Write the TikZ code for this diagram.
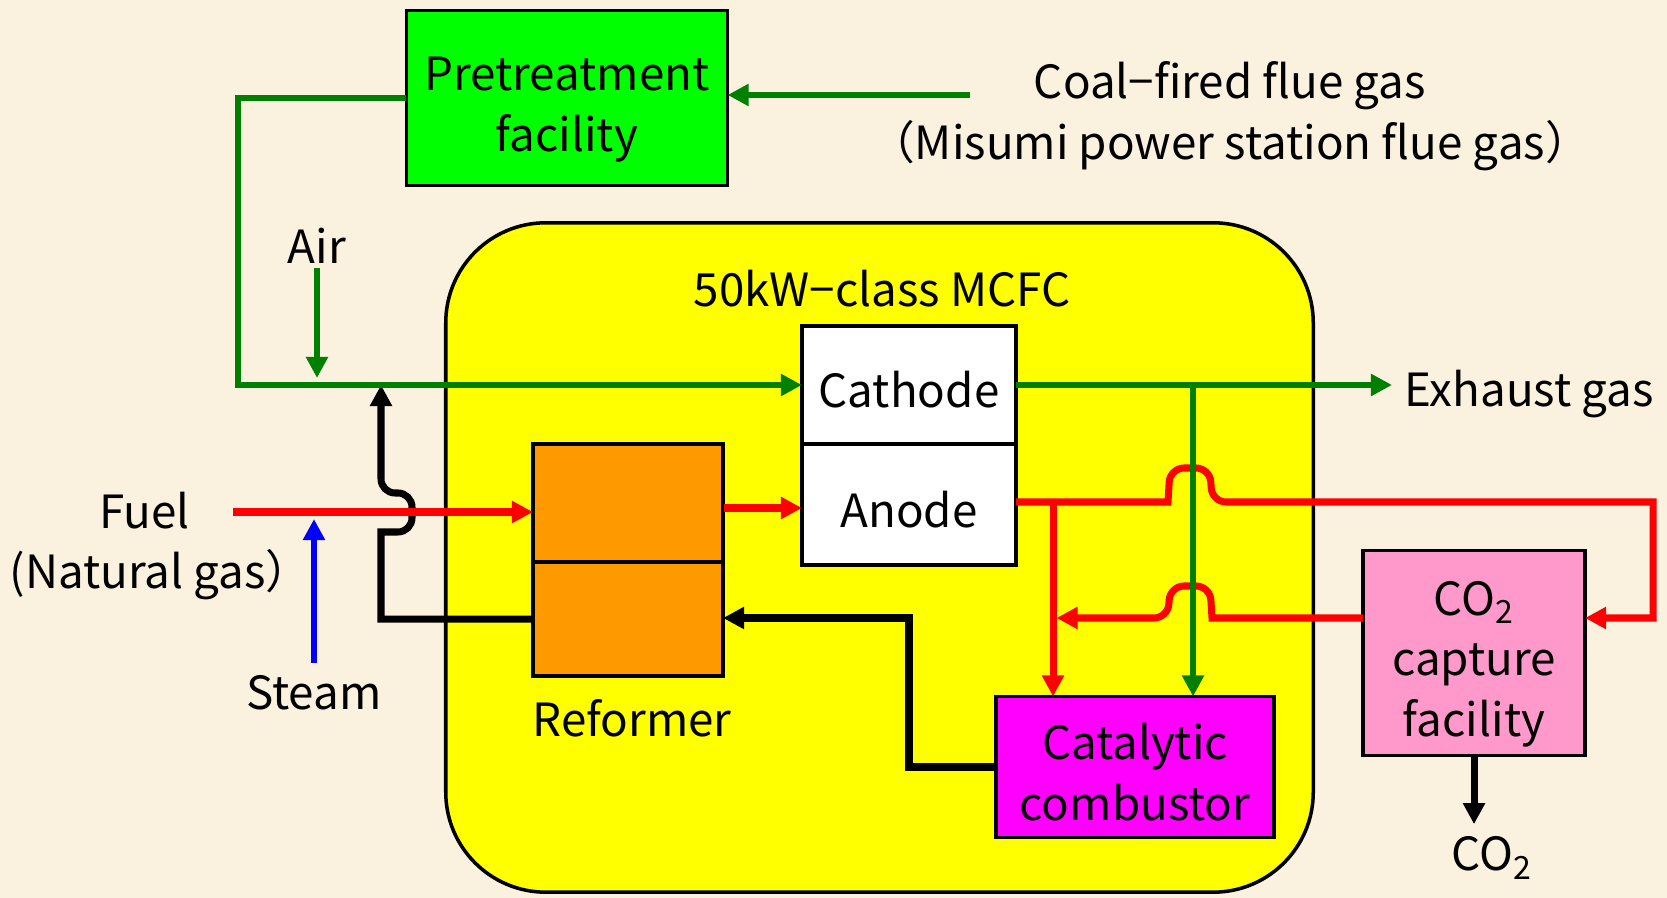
\documentclass[tikz,border=0pt]{standalone}
\usepackage{fontspec}
\setmainfont{Noto Sans CJK JP}
\usetikzlibrary{shapes, arrows.meta, positioning}

\definecolor{paper}{RGB}{250,241,222}
\definecolor{flowgreen}{RGB}{0,128,0}
\definecolor{boxgreen}{RGB}{0,255,0}
\definecolor{cellyellow}{RGB}{255,255,0}
\definecolor{reformorange}{RGB}{255,153,0}
\definecolor{combmagenta}{RGB}{255,0,255}
\definecolor{capturepink}{RGB}{255,153,204}

% strut for the first line of a box text
\newcommand{\topstrut}{\rule{0pt}{1.3em}}

\begin{document}
\begin{tikzpicture}[
    x=0.01cm, y=-0.01cm,
    font=\fontsize{13}{17.3}\selectfont,
    box/.style={rectangle, draw, line width=1pt, outer sep=0pt, inner sep=0pt, align=center,
        execute at end node={\rule[-0.3em]{0pt}{0pt}}},
    txt/.style={align=center},
    tip/.style={-{Triangle[length=6pt, width=6pt]}},
    gasflow/.style={tip, draw=flowgreen, line width=1.7pt},
    fuelflow/.style={tip, draw=red, line width=2pt},
    steamflow/.style={tip, draw=blue, line width=1.7pt},
    heatflow/.style={tip, draw=black, line width=2pt}
]

% Background
\fill[paper] (0,0) rectangle (1667,898);
\useasboundingbox (0,0) rectangle (1667,898);

% MCFC
\node[draw, fill=cellyellow, line width=1pt, rounded corners=1cm, minimum width=8.67cm, minimum height=6.69cm] (mcfc) at (879.5,557.5) {};
\node (title) at (882,289) {50kW−class MCFC};

\node[box, fill=white, minimum width=2.14cm, minimum height=1.18cm] (cathode) at (909,385) {\topstrut Cathode};
\node[box, fill=white, minimum width=2.14cm, minimum height=1.21cm, below=0pt of cathode] (anode) {\topstrut Anode};

\node[box, fill=reformorange, minimum width=1.9cm, minimum height=1.18cm] (refup) at (628,503) {};
\node[box, fill=reformorange, minimum width=1.9cm, minimum height=1.14cm, below=0pt of refup] (reflow) {};
\node (reformer) at (632,718) {Reformer};

\node[box, fill=combmagenta, minimum width=2.78cm, minimum height=1.41cm] (combustor) at (1135,767) {\topstrut Catalytic\\combustor};

% Outside
\node[box, fill=boxgreen, minimum width=3.21cm, minimum height=1.75cm] (pretreat) at (567,98) {\topstrut Pretreatment\\facility};
\node[txt] (coal) at (1230,116) {Coal−fired flue gas\\（Misumi power station flue gas）};
\node[inner sep=1pt] (air) at (317,246) {Air};
\node[txt, anchor=west, inner xsep=0pt] (fuel) at (9,546) {Fuel\hspace*{0.7em}\\(Natural gas）};
\node (steam) at (314,693) {Steam};
\node[anchor=west] (exhaust) at (1392,394) {Exhaust gas};

\node[box, fill=capturepink, minimum width=2.22cm, minimum height=2.05cm] (capture) at (1474,653) {\topstrut CO\textsubscript{2}\\capture\\facility};
\node (co2out) at (1492,858) {CO\textsubscript{2}};

% Junctions
\coordinate (fluein) at (970,95);
\coordinate (airjoin) at (238,385);
\coordinate (stackjoin) at (381,385);
\coordinate (fuelin) at (233,512);
\coordinate (refout) at (724,508);
\coordinate (exbranch) at (1193,385);
\coordinate (anbranch) at (1053,502);
\coordinate (redloop) at (1653,618);
\coordinate (heatturn) at (909,618);

% Heat
\draw[heatflow] (reflow.west) -- (reflow.west -| stackjoin) -- (381,532) [rounded corners=4pt] -- (412,532) -- (412,493) -- (381,493) [sharp corners] -- (stackjoin);
\draw[heatflow] (combustor.west) -| (heatturn) -- (heatturn -| reflow.east);
\draw[heatflow] (capture.south) -- (capture.south |- co2out.north);

% Fuel
\draw[fuelflow] (fuelin) -- (fuelin -| refup.west);
\draw[fuelflow] (refout) -- (refout -| anode.west);
\draw[fuelflow] (anode.east |- anbranch) -- (1168,502) [rounded corners=4pt] -- (1170,468) -- (1210,468) -- (1212,502) [sharp corners] -- (redloop |- anbranch) -- (redloop) -- (redloop -| capture.east);
\draw[fuelflow] (anbranch) -- (anbranch |- combustor.north);
\draw[fuelflow, shorten >=1pt] (capture.west |- redloop) -- (1212,618) [rounded corners=4pt] -- (1210,586) -- (1170,586) -- (1168,618) [sharp corners] -- (anbranch |- redloop);

% Steam
\draw[steamflow, shorten >=2pt] (steam) -- (steam |- fuelin);

% Gas
\draw[gasflow] (fluein) -- (fluein -| pretreat.east);
\draw[gasflow] (pretreat.west) -| (airjoin) -- (cathode.west);
\draw[gasflow, shorten >=2pt] (air) -- (air |- airjoin);
\draw[gasflow] (cathode.east) -- (cathode.east -| exhaust.west);
\draw[gasflow] (exbranch) -- (exbranch |- combustor.north);

\end{tikzpicture}
\end{document}
